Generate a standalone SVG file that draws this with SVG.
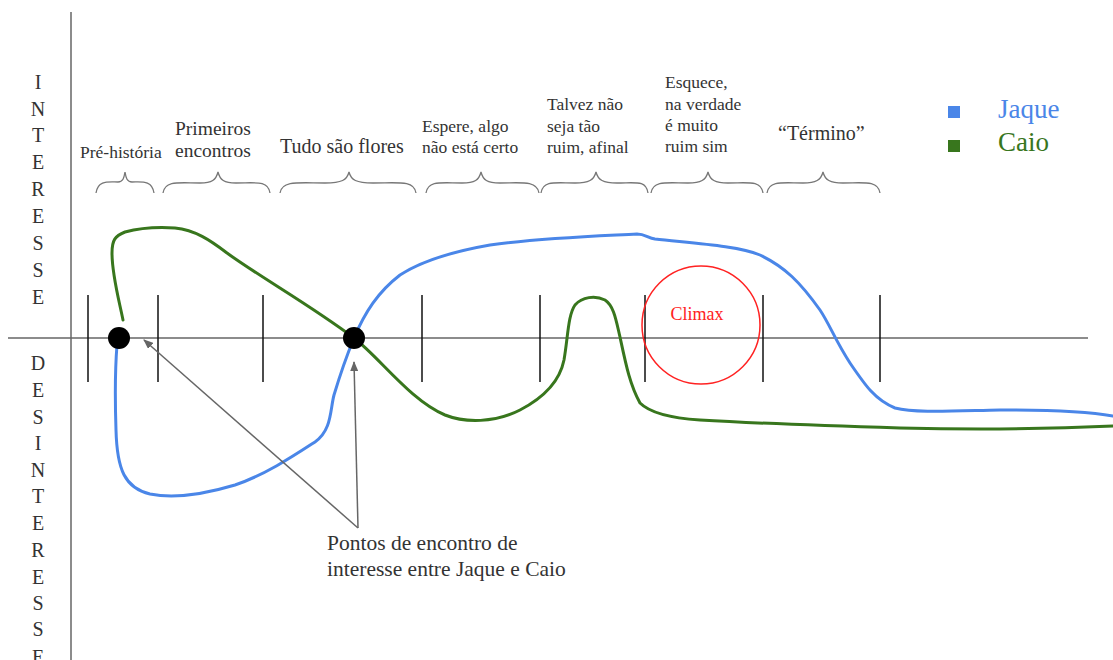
<svg xmlns="http://www.w3.org/2000/svg" width="1113" height="660" viewBox="0 0 1113 660">
<defs>
<marker id="ah" markerWidth="10" markerHeight="8" refX="9" refY="4" orient="auto" markerUnits="userSpaceOnUse">
<path d="M0,0 L10,4 L0,8 z" fill="#666"/>
</marker>
<style>
text{font-family:"Liberation Serif","Times New Roman","DejaVu Serif",serif;}
.t{fill:#333;}
.s17{font-size:17.5px;}
.ax{stroke:#666;stroke-width:1.5;fill:none;}
.tick{stroke:#111;stroke-width:1.5;}
.br{stroke:#777;stroke-width:1.3;fill:none;}
.side{font-size:20px;fill:#333;text-anchor:middle;}
</style>
</defs>
<rect width="1113" height="660" fill="#fff"/>
<g id="axes">
<line class="ax" x1="71" y1="12" x2="71" y2="660"/>
<line class="ax" x1="8" y1="338" x2="1088" y2="338"/>
</g>
<g id="ticks">
<line class="tick" x1="88" y1="295" x2="88" y2="382"/>
<line class="tick" x1="158" y1="295" x2="158" y2="382"/>
<line class="tick" x1="263" y1="295" x2="263" y2="382"/>
<line class="tick" x1="422" y1="295" x2="422" y2="382"/>
<line class="tick" x1="540" y1="295" x2="540" y2="382"/>
<line class="tick" x1="645" y1="295" x2="645" y2="382"/>
<line class="tick" x1="763" y1="295" x2="763" y2="382"/>
<line class="tick" x1="880" y1="295" x2="880" y2="382"/>
</g>
<g id="interesse">
<text class="side" x="38" y="89">I</text>
<text class="side" x="38" y="116">N</text>
<text class="side" x="38" y="142">T</text>
<text class="side" x="38" y="169">E</text>
<text class="side" x="38" y="196">R</text>
<text class="side" x="38" y="223">E</text>
<text class="side" x="38" y="250">S</text>
<text class="side" x="38" y="277">S</text>
<text class="side" x="38" y="304">E</text>
</g>
<g id="desinteresse">
<text class="side" x="38" y="370">D</text>
<text class="side" x="38" y="397">E</text>
<text class="side" x="38" y="424">S</text>
<text class="side" x="38" y="450">I</text>
<text class="side" x="38" y="477">N</text>
<text class="side" x="38" y="503">T</text>
<text class="side" x="38" y="530">E</text>
<text class="side" x="38" y="557">R</text>
<text class="side" x="38" y="584">E</text>
<text class="side" x="38" y="610">S</text>
<text class="side" x="38" y="636">S</text>
<text class="side" x="38" y="664">E</text>
</g>
<g id="braces">
<path class="br" d="M96,193 C98,180 108,182 118,182 C123,182 124,178 125,172 C126,178 127,182 132,182 C142,182 152,180 154,193"/>
<path class="br" d="M163,193 C165,180 180,183 200,183 C212,183 216,180 218,172 C220,180 224,183 236,183 C255,183 268,180 270,193"/>
<path class="br" d="M280,193 C282,180 300,183 325,183 C342,183 347,180 349,172 C351,180 356,183 373,183 C398,183 414,180 416,193"/>
<path class="br" d="M426,193 C428,180 442,183 462,183 C475,183 479,180 481,172 C483,180 487,183 500,183 C520,183 537,180 539,193"/>
<path class="br" d="M541,193 C543,180 556,183 575,183 C589,183 594,180 596,172 C598,180 603,183 617,183 C636,183 646,180 648,193"/>
<path class="br" d="M651,193 C653,180 668,183 688,183 C701,183 706,180 708,172 C710,180 715,183 728,183 C748,183 761,180 763,193"/>
<path class="br" d="M767,193 C769,180 784,183 803,183 C816,183 821,180 823,172 C825,180 830,183 843,183 C863,183 878,180 880,193"/>
</g>
<g id="labels">
<text class="t s17" x="80" y="158">Pré-história</text>
<text class="t" font-size="19.5" x="175" y="135">Primeiros</text>
<text class="t" font-size="19.5" x="175" y="157">encontros</text>
<text class="t" font-size="20" x="280" y="153">Tudo são flores</text>
<text class="t s17" x="422" y="132">Espere, algo</text>
<text class="t s17" x="422" y="153">não está certo</text>
<text class="t s17" x="547" y="110">Talvez não</text>
<text class="t s17" x="547" y="132">seja tão</text>
<text class="t s17" x="547" y="153">ruim, afinal</text>
<text class="t s17" x="665" y="88">Esquece,</text>
<text class="t s17" x="665" y="110">na verdade</text>
<text class="t s17" x="665" y="131">é muito</text>
<text class="t s17" x="665" y="152">ruim sim</text>
<text class="t" font-size="20" x="778" y="140">“Término”</text>
</g>
<g id="legend">
<rect x="948" y="106" width="12" height="12" fill="#4a86e8"/>
<text x="998" y="118" font-size="27" fill="#4a86e8">Jaque</text>
<rect x="948" y="140" width="12" height="12" fill="#38761d"/>
<text x="998" y="151" font-size="27" fill="#38761d">Caio</text>
</g>
<g id="caio">
<path fill="none" stroke="#38761d" stroke-width="3" stroke-linecap="round" stroke-linejoin="round" d="M123,320 C119,300 112,275 112,253 C112,240 115,236 125,232 C140,228 160,227 175,228 C195,230 210,240 227,253 C260,277 310,305 354,338 C380,358 410,400 445,415 C465,423 495,423 520,410 C545,397 560,380 564,360 C568,337 568,315 575,305 C582,297 595,295 605,300 C614,306 616,320 620,337 C626,365 630,385 640,403 C650,413 670,418 700,420 C750,423 800,425 900,428 C980,430 1050,429 1113,426"/>
</g>
<g id="jaque">
<path fill="none" stroke="#4a86e8" stroke-width="3" stroke-linecap="round" stroke-linejoin="round" d="M117,345 C115,370 115,400 116,430 C117,470 125,488 150,494 C175,499 205,494 235,485 C265,475 295,455 315,442 C332,430 330,410 334,395 C340,375 347,355 354,338 C365,312 378,292 400,275 C420,262 450,252 490,245 C540,238 600,236 637,234 C645,234 648,238 655,239 C690,243 740,246 760,255 C785,267 800,282 820,310 C830,325 835,340 850,363 C865,385 875,400 895,408 C915,413 950,411 1000,410 C1050,410 1090,412 1113,416"/>
</g>
<g id="dots">
<circle cx="119" cy="338" r="11" fill="#000"/>
<circle cx="354" cy="338" r="11" fill="#000"/>
</g>
<g id="climax">
<circle cx="701" cy="325" r="59" fill="none" stroke="#ff2222" stroke-width="1.5"/>
<text x="697" y="320" text-anchor="middle" font-size="18" fill="#ff2222">Climax</text>
</g>
<g id="connectors">
<line x1="358" y1="528" x2="144" y2="340" stroke="#666" stroke-width="1.5" marker-end="url(#ah)"/>
<line x1="358" y1="528" x2="354" y2="362" stroke="#666" stroke-width="1.5" marker-end="url(#ah)"/>
</g>
<g id="note">
<text class="t" font-size="21.5" x="327" y="550">Pontos de encontro de</text>
<text class="t" font-size="21.5" x="327" y="576">interesse entre Jaque e Caio</text>
</g>
</svg>
